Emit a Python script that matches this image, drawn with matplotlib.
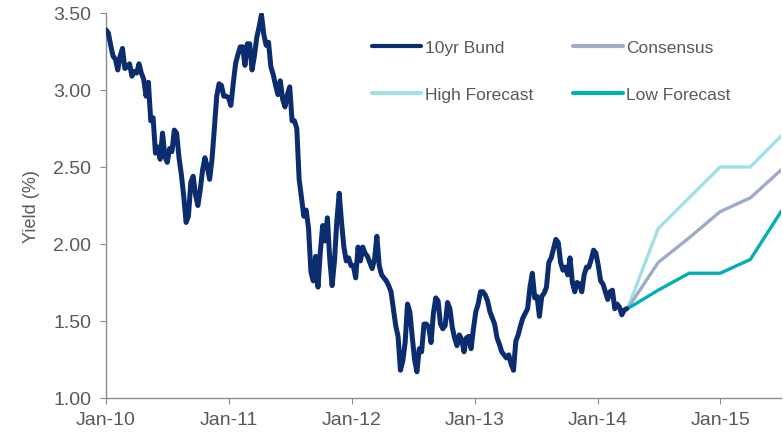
import matplotlib
matplotlib.use("Agg")
import matplotlib.pyplot as plt
import matplotlib.dates as mdates
import numpy as np
import pandas as pd

# weekly 10yr Bund yield (%), starting 1 Jan 2010
bund_start = "2010-01-01"
bund_yield = [
    3.39, 3.37, 3.29, 3.22, 3.20, 3.13, 3.22, 3.27, 3.14, 3.15,
    3.17, 3.09, 3.12, 3.11, 3.17, 3.11, 3.07, 2.96, 3.05, 2.80,
    2.82, 2.59, 2.63, 2.55, 2.72, 2.57, 2.53, 2.62, 2.60, 2.74,
    2.72, 2.56, 2.45, 2.31, 2.14, 2.18, 2.40, 2.44, 2.32, 2.25,
    2.35, 2.48, 2.56, 2.50, 2.42, 2.55, 2.75, 2.96, 3.04, 3.03,
    2.96, 2.96, 2.95, 2.90, 3.04, 3.17, 3.23, 3.28, 3.28, 3.16,
    3.30, 3.30, 3.13, 3.22, 3.34, 3.41, 3.49, 3.36, 3.29, 3.31,
    3.15, 3.10, 3.03, 2.97, 3.06, 2.94, 2.89, 2.97, 3.02, 2.80,
    2.80, 2.75, 2.42, 2.30, 2.18, 2.22, 2.10, 1.82, 1.76, 1.92,
    1.72, 1.95, 2.12, 2.02, 2.17, 1.90, 1.73, 1.89, 2.15, 2.33,
    2.14, 1.98, 1.89, 1.91, 1.86, 1.86, 1.78, 1.98, 1.89, 1.98,
    1.94, 1.92, 1.88, 1.84, 1.90, 2.05, 1.86, 1.80, 1.78, 1.76,
    1.73, 1.69, 1.58, 1.47, 1.40, 1.18, 1.24, 1.36, 1.61, 1.56,
    1.40, 1.25, 1.17, 1.32, 1.30, 1.48, 1.48, 1.46, 1.36, 1.55,
    1.65, 1.63, 1.48, 1.45, 1.47, 1.62, 1.58, 1.46, 1.39, 1.34,
    1.41, 1.38, 1.30, 1.39, 1.40, 1.32, 1.45, 1.56, 1.61, 1.69,
    1.69, 1.67, 1.63, 1.56, 1.52, 1.48, 1.39, 1.35, 1.30, 1.28,
    1.26, 1.28, 1.22, 1.18, 1.37, 1.41, 1.47, 1.52, 1.55, 1.58,
    1.72, 1.81, 1.65, 1.66, 1.53, 1.66, 1.68, 1.72, 1.88, 1.91,
    1.97, 2.03, 2.01, 1.88, 1.83, 1.85, 1.80, 1.91, 1.75, 1.69,
    1.75, 1.74, 1.69, 1.80, 1.85, 1.85, 1.90, 1.96, 1.94, 1.86,
    1.76, 1.74, 1.69, 1.64, 1.69, 1.70, 1.58, 1.61, 1.59, 1.54,
    1.57, 1.58,
]

# quarterly forecasts
fc_dates = ["2014-03-31", "2014-06-30", "2014-09-30", "2014-12-31", "2015-03-31", "2015-06-30"]
consensus = [1.58, 1.88, 2.04, 2.21, 2.30, 2.48]
high_fc = [1.58, 2.10, 2.30, 2.50, 2.50, 2.70]
low_fc = [1.58, 1.70, 1.81, 1.81, 1.90, 2.21]

bund_dates = pd.date_range(bund_start, periods=len(bund_yield), freq="7D")
fc_dates = pd.to_datetime(fc_dates)

navy = "#0B2D6F"
grey_txt = "#595959"
axis_col = "#8C8C8C"

plt.rcParams["font.family"] = ["Liberation Sans", "DejaVu Sans"]

fig = plt.figure(figsize=(7.83, 4.35), dpi=100)
ax = fig.add_axes([106 / 783, 1 - 399 / 435, 675 / 783, 385 / 435])

ax.plot(bund_dates, bund_yield, color=navy, lw=3.6, solid_joinstyle="round",
        solid_capstyle="round", label="10yr Bund", zorder=3)
ax.plot(fc_dates, high_fc, color="#A0E1E5", lw=2.4, label="High Forecast", zorder=2)
ax.plot(fc_dates, consensus, color="#9EACC9", lw=2.4, label="Consensus", zorder=2)
ax.plot(fc_dates, low_fc, color="#00B0B6", lw=2.4, label="Low Forecast", zorder=2)

ax.set_xlim(pd.Timestamp("2010-01-01"), pd.Timestamp("2015-06-30"))
ax.set_ylim(1.0, 3.5)
ax.set_yticks(np.arange(1.0, 3.51, 0.5))
ax.yaxis.set_major_formatter(matplotlib.ticker.FormatStrFormatter("%.2f"))
ax.xaxis.set_major_locator(mdates.YearLocator())
ax.xaxis.set_major_formatter(mdates.DateFormatter("Jan-%y"))

for s in ["top", "right"]:
    ax.spines[s].set_visible(False)
for s in ["left", "bottom"]:
    ax.spines[s].set_color(axis_col)
    ax.spines[s].set_linewidth(1.0)
ax.tick_params(colors=axis_col, labelcolor=grey_txt, labelsize=14, length=4.5, direction="out")
ax.tick_params(axis="x", pad=5)
ax.tick_params(axis="y", pad=6)
ax.set_ylabel("Yield (%)", color=grey_txt, fontsize=13, labelpad=10)

h, l = ax.get_legend_handles_labels()
# legend order: 10yr Bund, High Forecast / Consensus, Low Forecast (column-wise)
leg = fig.legend(h, l, loc="upper left", bbox_to_anchor=(372 / 783, 1 - 41 / 435),
                 ncol=2, frameon=False, fontsize=12.5, handlelength=2.85,
                 handletextpad=0.2, columnspacing=2.3, labelspacing=1.82,
                 borderpad=0, borderaxespad=0)
for t in leg.get_texts():
    t.set_color(grey_txt)
for line in leg.get_lines():
    line.set_linewidth(3.0)
    line.set_solid_capstyle("round")

fig.savefig("out.png", dpi=100)
